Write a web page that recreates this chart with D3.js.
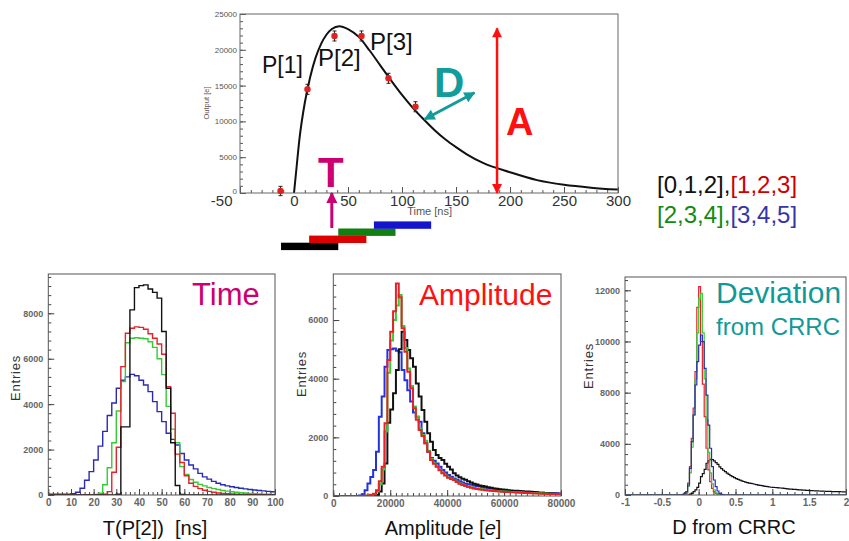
<!DOCTYPE html>
<html><head><meta charset="utf-8">
<script src="https://cdn.jsdelivr.net/npm/d3@7/dist/d3.min.js"></script>
<style>
html,body{margin:0;padding:0;background:#fff;}
svg{display:block;font-family:"Liberation Sans",Arial,Helvetica,sans-serif;}
</style></head><body>
<svg id="chart" width="849" height="541"></svg>
<script>
// ================= DATA =================
const sampleTimes  = [-12.5, 12.5, 37.5, 62.5, 87.5, 112.5];
const sampleValues = [280, 14480, 21930, 21930, 16020, 12050];
const sampleErrors = [650, 700, 700, 700, 700, 700];
const fitTimes  = [0,2,5,10,15,20,25,30,35,42,50,60,70,80,90,100,110,120,130,140,150,160,175,200,225,250,275,300];
const fitValues = [0,3000,7500,12600,16200,18900,20800,22100,22900,23300,22900,21800,19900,17800,15700,13700,11900,10300,8800,7500,6400,5400,4200,2900,1800,1150,750,480];
const topXTicks = [-50,0,50,100,150,200,250,300];
const topYTicks = [0,5000,10000,15000,20000,25000];
const sampleLabels = ["P[1]","P[2]","P[3]"];

// sampling windows (ns)
const windowNames = ["[0,1,2]","[1,2,3]","[2,3,4]","[3,4,5]"];
const windowStart = [-12, 14, 41, 74];
const windowEnd   = [41, 67, 94, 127];

// annotation anchors (data units of the top panel)
const ampMarkTime = 188, ampMarkTop = 23000;
const timeMarkTime = 35;
const devArrowFrom = [121, 10300], devArrowTo = [167, 14000];

// Time histograms: 2 ns bins, 0..100 ns
const timeBinStart = 0, timeBinWidth = 2;
const timeW012 = [0,0,0,0,0,0,0,0,0,0, 0,0,0,0,0,30,3000,3000,8150,9130, 9220,9250,9070,8920,8670,7200,4700,2300,420,20, 0,0,0,0,0,0,0,0,0,0, 0,0,0,0,0,0,0,0,0,0];
const timeW123 = [0,0,0,0,0,0,0,0,0,0, 0,10,30,150,1000,2100,5650,7120,7340,7400, 7380,7300,7100,6900,6650,6200,4770,3600,1800,1430, 850,520,380,280,210,160,120,90,70,55, 45,35,28,22,18,14,11,9,7,5];
const timeW234 = [0,0,0,0,0,0,0,0,0,0, 20,80,450,1200,2300,3700,5000,6700,6900,6920, 6900,6880,6750,6500,6000,5300,3900,2900,2300,1250, 900,680,560,470,400,330,280,240,200,170, 145,120,100,85,70,60,50,40,32,25];
const timeW345 = [30,30,30,30,30,60,120,300,650,1030, 1540,2150,2800,3500,4050,4700,5050,5200,5310,5250, 5050,4840,4550,4110,3670,3230,2720,2450,2200,1830, 1540,1320,1150,950,800,700,600,520,450,400, 360,330,300,270,240,220,200,180,160,140];
const timeXTicks = [0,10,20,30,40,50,60,70,80,90,100];
const timeYTicks = [0,2000,4000,6000,8000];

// Amplitude histograms: 1000 e bins, 0..80000 e
const ampBinStart = 0, ampBinWidth = 1000;
const ampW012 = [0,0,0,0,0,0,0,0,0,0, 0,0,0,0,10,30,150,430,1110,2500, 2950,3500,4300,5000,5600,5320,4980,4700,4410,3840, 3390,2930,2530,2140,1850,1570,1400,1300,1230,1100, 1000,900,775,700,640,590,550,500,460,420, 390,360,340,320,300,280,260,245,230,220, 210,200,190,180,175,170,160,155,150,145, 140,125,115,108,100,95,90,85,80,75];
const ampW123 = [0,0,0,0,0,0,0,0,0,0, 5,10,20,40,80,200,500,1000,2480,4640, 5600,6300,7250,6780,5720,4920,4240,3670,2990,2600, 2250,2050,1800,1510,1230,1100,1000,880,775,700, 620,580,545,480,420,375,340,310,285,260, 240,225,210,200,190,180,170,160,150,145, 140,135,130,125,120,115,110,105,100,95, 90,86,82,78,75,72,70,67,64,62];
const ampW234 = [0,0,0,0,0,0,0,0,0,0, 4,8,15,30,60,150,400,900,2200,4200, 5300,6000,6500,6850,5800,5050,4350,3750,3050,2700, 2300,2080,1880,1540,1260,1120,1010,890,790,710, 630,590,555,490,430,385,350,320,295,270, 250,235,220,210,200,190,180,170,160,155, 150,145,140,135,130,125,120,115,110,105, 100,95,90,86,82,78,75,72,69,66];
const ampW345 = [0,0,0,0,0,0,0,0,0,20, 60,200,430,650,890,1510,2700,3390,4410,4980, 5000,5030,4950,4900,4300,3950,3610,3220,2850,2700, 2530,2140,1800,1510,1300,1200,1110,1000,890,800, 720,660,600,550,500,460,420,400,380,360, 340,320,300,285,270,260,245,230,215,200, 190,180,170,165,155,150,145,140,135,130, 125,120,115,110,105,100,97,94,91,88];
const ampXTicks = [0,20000,40000,60000,80000];
const ampYTicks = [0,2000,4000,6000];

// Deviation histograms: 0.025 bins on -1..2 (non-zero part listed)
const devRangeStart = -1, devBinWidth = 0.025, devBinCount = 120;
const devW012Start = -0.125;
const devW012 = [50,100,195,300,450,700,1075,1250,1500,1860,2000,2090,2080,2000,1900,1800,1650,1550,1450,1370,1280,1210,1140,1075,1020,960,920,870,830,790,760,730,700,685,660,630,605,580,560,545,525,505,490,470,455,
 445,440,430,420,410,400,385,370,360,350,345,335,325,315,305,295,290,285,275,270,260,255,250,245,240,235,230,225,220,215,212,208,205,200,197,195,193,190,188,185];
const devW123Start = -0.2;
const devW123 = [30,150,700,1660,3320,5100,7230,11000,12210,9000,6500,4600,2740,1470,780,390,195,90,40,15];
const devW234Start = -0.2;
const devW234 = [20,100,500,1300,2800,4700,6800,9500,11500,11820,9500,6800,4400,2500,1300,650,300,130,50,20];
const devW345Start = -0.225;
const devW345 = [40,100,200,585,1565,3125,4690,6450,7815,8790,9380,8990,7425,5860,4100,2740,1660,880,490,235,100,40,15];
const devXTicks = [-1,-0.5,0,0.5,1,1.5,2];
const devYTickValues = [0,3000,6000,9000,12000];
const devYTickLabels = ["0","4000","8000","10000","12000"];

// ================= STYLE =================
const FONT = '"Liberation Sans", Arial, Helvetica, sans-serif';
const C = {black:"#111111", red:"#e8202a", green:"#33cc33", blue:"#2a2ab8"};
const legendColors = ["#111111","#cc0000","#138a13","#3535a8"];
const barColors = ["#000000","#dd0000","#118011","#1414cc"];
const TEAL = "#139c9c", MAG = "#cc0070", RED = "#ff1010";

const svg = d3.select("#chart");
const defs = svg.append("defs");

function marker(id, color, w, h) {
  defs.append("marker").attr("id", id).attr("viewBox","0 0 10 10")
    .attr("refX", 9).attr("refY", 5).attr("markerUnits","userSpaceOnUse")
    .attr("markerWidth", w).attr("markerHeight", h).attr("orient","auto-start-reverse")
    .append("path").attr("d","M0,0L10,5L0,10z").attr("fill", color);
}
marker("mRed", RED, 11, 10);
marker("mTeal", TEAL, 12, 11);
marker("mMag", MAG, 11, 11);

function styleAxis(s, tickColor, fs, fw, fill) {
  s.select(".domain").remove();
  s.selectAll(".tick line").attr("stroke", tickColor).attr("stroke-width", 1);
  s.selectAll(".tick text").attr("font-size", fs).attr("font-weight", fw)
    .attr("fill", fill).attr("font-family", FONT);
}

let clipN = 0;
function drawPanel(p) {
  const x = d3.scaleLinear().domain(p.xDomain).range([p.left, p.right]);
  const y = d3.scaleLinear().domain(p.yDomain).range([p.bottom, p.top]);
  const g = svg.append("g");
  const id = "clip" + (clipN++);
  defs.append("clipPath").attr("id", id).append("rect")
    .attr("x", p.left).attr("y", p.top).attr("width", p.right - p.left).attr("height", p.bottom - p.top);
  g.append("g").attr("transform", `translate(0,${p.bottom})`)
    .call(d3.axisBottom(x).tickValues(p.xMinor).tickSize(-p.minor).tickFormat(""))
    .call(s => styleAxis(s, p.tickColor, 0, "normal", "none"));
  const xa = g.append("g").attr("transform", `translate(0,${p.bottom})`)
    .call(d3.axisBottom(x).tickValues(p.xMajor).tickSize(-p.major).tickPadding(p.xPad).tickFormat(p.xFmt))
    .call(s => styleAxis(s, p.tickColor, p.xFont, p.xWeight, p.xFill));
  g.append("g").attr("transform", `translate(${p.left},0)`)
    .call(d3.axisLeft(y).tickValues(p.yMinor).tickSize(-p.minor).tickFormat(""))
    .call(s => styleAxis(s, p.tickColor, 0, "normal", "none"));
  const ya = g.append("g").attr("transform", `translate(${p.left},0)`)
    .call(d3.axisLeft(y).tickValues(p.yMajor).tickSize(-p.major).tickPadding(p.yPad).tickFormat(p.yFmt))
    .call(s => styleAxis(s, p.tickColor, p.yFont, p.yWeight, p.yFill));
  const content = svg.append("g").attr("clip-path", `url(#${id})`);
  svg.append("rect").attr("x", p.left).attr("y", p.top)
    .attr("width", p.right - p.left).attr("height", p.bottom - p.top)
    .attr("fill", "none").attr("stroke", p.frameColor).attr("stroke-width", 1);
  return {x, y, g, content, xa, ya};
}

function drawHist(P, start, width, values, color, lw) {
  const pts = values.map((v, i) => [start + i * width, v]);
  pts.push([start + values.length * width, values[values.length - 1]]);
  P.content.append("path").datum(pts)
    .attr("fill", "none").attr("stroke", color).attr("stroke-width", lw)
    .attr("stroke-linejoin", "miter")
    .attr("d", d3.line().x(d => P.x(d[0])).y(d => P.y(d[1])).curve(d3.curveStepAfter));
}

function fullDev(partStart, part) {
  const arr = new Array(devBinCount).fill(0);
  const off = Math.round((partStart - devRangeStart) / devBinWidth);
  part.forEach((v, i) => { if (off + i >= 0 && off + i < devBinCount) arr[off + i] = v; });
  return arr;
}

const fmtPlain = d => String(d);

// ================= TOP PANEL =================
const T = drawPanel({
  xDomain: [-50, 300], yDomain: [0, 25000], left: 240, right: 618, top: 14, bottom: 193,
  xMajor: topXTicks, xMinor: d3.range(-50, 301, 10),
  yMajor: topYTicks, yMinor: d3.range(0, 25001, 1000),
  major: 6, minor: 3, tickColor: "#555", frameColor: "#666",
  xPad: 2.5, xFont: 15, xWeight: "normal", xFill: "#333", xFmt: fmtPlain,
  yPad: 3, yFont: 8, yWeight: "normal", yFill: "#555", yFmt: fmtPlain
});
// first x label sits left of the axis start, as in the original
T.xa.selectAll(".tick text").filter(d => d === topXTicks[0]).attr("text-anchor", "end").attr("dx", -8);
T.ya.selectAll(".tick text").filter(d => d === 0).attr("dy", "0.1em");
svg.append("text").attr("x", 452).attr("y", 214.5).attr("text-anchor", "end")
  .attr("font-size", 11).attr("fill", "#555").text("Time [ns]");
svg.append("text").attr("transform", "translate(209,103) rotate(-90)").attr("text-anchor", "middle")
  .attr("font-size", 7.5).attr("fill", "#6a5555").text("Output [e]");

const fitPts = fitTimes.map((t, i) => [t, fitValues[i]]);
T.content.append("path").datum(fitPts).attr("fill", "none").attr("stroke", "#111").attr("stroke-width", 2)
  .attr("d", d3.line().x(d => T.x(d[0])).y(d => T.y(d[1])).curve(d3.curveMonotoneX));

const samples = sampleTimes.map((t, i) => ({t, v: sampleValues[i], e: sampleErrors[i]}));
const sg = svg.append("g");
sg.selectAll("line.eb").data(samples).join("line").attr("class", "eb")
  .attr("x1", d => T.x(d.t)).attr("x2", d => T.x(d.t))
  .attr("y1", d => T.y(d.v - d.e)).attr("y2", d => T.y(d.v + d.e))
  .attr("stroke", "#222").attr("stroke-width", 1);
[-1, 1].forEach(sgn => {
  sg.append("g").selectAll("line").data(samples).join("line")
    .attr("x1", d => T.x(d.t) - 2).attr("x2", d => T.x(d.t) + 2)
    .attr("y1", d => T.y(d.v + sgn * d.e)).attr("y2", d => T.y(d.v + sgn * d.e))
    .attr("stroke", "#222").attr("stroke-width", 1);
});
sg.selectAll("circle").data(samples).join("circle")
  .attr("cx", d => T.x(d.t)).attr("cy", d => T.y(d.v)).attr("r", 3.2).attr("fill", "#dd2222");

// P labels
const pLabelPos = [[262, 73, 23], [318, 66, 24], [370, 49.5, 24]];
sampleLabels.forEach((s, i) => {
  svg.append("text").attr("x", pLabelPos[i][0]).attr("y", pLabelPos[i][1])
    .attr("font-size", pLabelPos[i][2]).attr("fill", "#111").text(s);
});

// A arrow
svg.append("line").attr("x1", T.x(ampMarkTime)).attr("x2", T.x(ampMarkTime))
  .attr("y1", T.y(0)).attr("y2", T.y(ampMarkTop))
  .attr("stroke", RED).attr("stroke-width", 2.5)
  .attr("marker-start", "url(#mRed)").attr("marker-end", "url(#mRed)");
svg.append("text").attr("x", 506).attr("y", 135).attr("font-size", 38).attr("font-weight", "bold")
  .attr("fill", RED).text("A");

// D arrow
svg.append("line").attr("x1", T.x(devArrowFrom[0])).attr("y1", T.y(devArrowFrom[1]))
  .attr("x2", T.x(devArrowTo[0])).attr("y2", T.y(devArrowTo[1]))
  .attr("stroke", TEAL).attr("stroke-width", 3)
  .attr("marker-start", "url(#mTeal)").attr("marker-end", "url(#mTeal)");
svg.append("text").attr("x", 434).attr("y", 97).attr("font-size", 42).attr("font-weight", "bold")
  .attr("fill", TEAL).text("D");

// T arrow
svg.append("line").attr("x1", T.x(timeMarkTime)).attr("x2", T.x(timeMarkTime))
  .attr("y1", 228).attr("y2", T.y(0))
  .attr("stroke", MAG).attr("stroke-width", 3).attr("marker-end", "url(#mMag)");
svg.append("text").attr("x", 318).attr("y", 187).attr("font-size", 42).attr("font-weight", "bold")
  .attr("fill", MAG).text("T");

// window bars
windowNames.forEach((n, i) => {
  svg.append("rect").attr("x", T.x(windowStart[i])).attr("width", T.x(windowEnd[i]) - T.x(windowStart[i]))
    .attr("y", 242.7 - i * 7.1).attr("height", 7.4).attr("fill", barColors[i]);
});

// legend text
const lg = svg.append("g").attr("font-size", 24);
[[0, 1], [2, 3]].forEach((pair, row) => {
  const t = lg.append("text").attr("x", 657).attr("y", 193 + row * 30);
  t.append("tspan").attr("fill", legendColors[pair[0]]).text(windowNames[pair[0]] + ",");
  t.append("tspan").attr("fill", legendColors[pair[1]]).text(windowNames[pair[1]]);
});

// ================= BOTTOM PANELS =================
const histCommon = {
  major: 6, minor: 3, tickColor: "#444", frameColor: "#555",
  xPad: 4, xFont: 10, xWeight: "bold", xFill: "#666",
  yPad: 5, yFont: 9, yWeight: "bold", yFill: "#666"
};

// Time
const P1 = drawPanel(Object.assign({}, histCommon, {
  xDomain: [0, 100], yDomain: [0, 9730], left: 48.3, right: 275, top: 274, bottom: 495,
  xMajor: timeXTicks, xMinor: d3.range(0, 101, 2), xFmt: fmtPlain,
  yMajor: timeYTicks, yMinor: d3.range(0, 9730, 400), yFmt: fmtPlain
}));
drawHist(P1, timeBinStart, timeBinWidth, timeW345, C.blue, 1.4);
drawHist(P1, timeBinStart, timeBinWidth, timeW234, C.green, 1.4);
drawHist(P1, timeBinStart, timeBinWidth, timeW123, C.red, 1.4);
drawHist(P1, timeBinStart, timeBinWidth, timeW012, C.black, 1.4);

// Amplitude
const P2 = drawPanel(Object.assign({}, histCommon, {
  xDomain: [0, 80000], yDomain: [0, 7570], left: 333.3, right: 561, top: 274, bottom: 496,
  xMajor: ampXTicks, xMinor: d3.range(0, 80001, 2000), xFmt: fmtPlain,
  yMajor: ampYTicks, yMinor: d3.range(0, 7570, 400), yFmt: fmtPlain
}));
drawHist(P2, ampBinStart, ampBinWidth, ampW345, "#2233dd", 2);
drawHist(P2, ampBinStart, ampBinWidth, ampW012, C.black, 2);
drawHist(P2, ampBinStart, ampBinWidth, ampW234, C.green, 2);
drawHist(P2, ampBinStart, ampBinWidth, ampW123, C.red, 2);

// Deviation
const P3 = drawPanel(Object.assign({}, histCommon, {
  xDomain: [-1, 2], yDomain: [0, 12780], left: 625, right: 846, top: 277, bottom: 495,
  xMajor: devXTicks, xMinor: d3.range(-10, 21, 1).map(v => v / 10), xFmt: fmtPlain,
  yMajor: devYTickValues, yMinor: d3.range(0, 12780, 600),
  yFmt: (d, i) => devYTickLabels[i]
}));
drawHist(P3, devRangeStart, devBinWidth, fullDev(devW012Start, devW012), C.black, 1.2);
drawHist(P3, devRangeStart, devBinWidth, fullDev(devW123Start, devW123), C.red, 1.2);
drawHist(P3, devRangeStart, devBinWidth, fullDev(devW234Start, devW234), C.green, 1.2);
drawHist(P3, devRangeStart, devBinWidth, fullDev(devW345Start, devW345), C.blue, 1.2);

// y titles
[[20, 378], [306, 374], [593, 366]].forEach(p => {
  svg.append("text").attr("transform", `translate(${p[0]},${p[1]}) rotate(-90)`)
    .attr("text-anchor", "middle").attr("font-size", 13).attr("letter-spacing", 0.8)
    .attr("fill", "#333").text("Entries");
});

// x titles
svg.append("text").attr("x", 155).attr("y", 535).attr("text-anchor", "middle").attr("font-size", 20)
  .attr("fill", "#111").text("T(P[2])\u00a0\u00a0[ns]");
const at = svg.append("text").attr("x", 443).attr("y", 535).attr("text-anchor", "middle").attr("font-size", 20).attr("fill", "#111");
at.append("tspan").text("Amplitude [");
at.append("tspan").attr("font-style", "italic").text("e");
at.append("tspan").text("]");
svg.append("text").attr("x", 734).attr("y", 534).attr("text-anchor", "middle").attr("font-size", 20)
  .attr("fill", "#111").text("D from CRRC");

// panel titles
svg.append("text").attr("x", 192).attr("y", 305).attr("font-size", 31).attr("fill", MAG).text("Time");
svg.append("text").attr("x", 419).attr("y", 305).attr("font-size", 30).attr("fill", "#ff1010").text("Amplitude");
svg.append("text").attr("x", 716).attr("y", 303).attr("font-size", 30).attr("fill", "#119999").text("Deviation");
svg.append("text").attr("x", 716).attr("y", 335).attr("font-size", 24).attr("fill", "#119999").text("from CRRC");
</script>
</body></html>
